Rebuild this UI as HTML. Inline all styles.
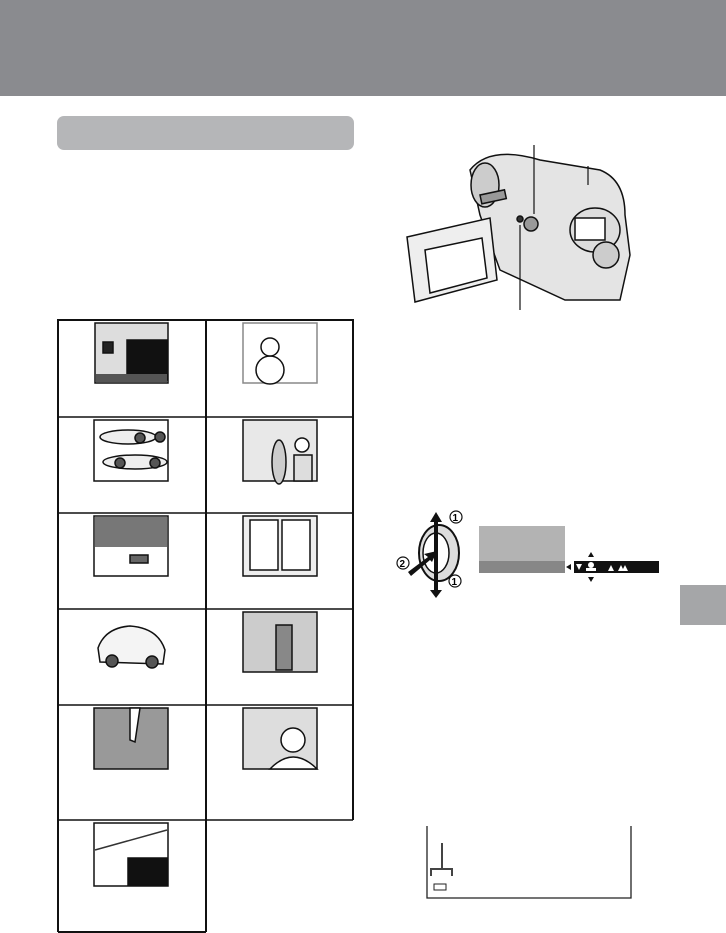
<!DOCTYPE html>
<html><head><meta charset="utf-8"><style>
html,body{margin:0;padding:0;background:#fff;}
body{width:726px;height:933px;position:relative;overflow:hidden;font-family:"Liberation Sans",sans-serif;}
</style></head><body>
<svg width="726" height="933" viewBox="0 0 726 933" xmlns="http://www.w3.org/2000/svg" style="position:absolute;left:0;top:0">
<rect x="0" y="0" width="726" height="96" fill="#8a8b8f"/>
<rect x="57" y="116" width="297" height="34" rx="7" fill="#b5b6b8"/>
<rect x="680" y="585" width="46" height="40" fill="#a5a6a8"/>

<!-- grid -->
<g fill="none" stroke="#111" stroke-width="2">
<polyline points="58,932 58,320 353,320 353,820"/>
<line x1="206" y1="320" x2="206" y2="932"/>
<line x1="58" y1="417" x2="353" y2="417" stroke-width="1.5"/>
<line x1="58" y1="513" x2="353" y2="513" stroke-width="1.5"/>
<line x1="58" y1="609" x2="353" y2="609" stroke-width="1.5"/>
<line x1="58" y1="705" x2="353" y2="705" stroke-width="1.5"/>
<line x1="58" y1="820" x2="353" y2="820" stroke-width="1.5"/>
<line x1="58" y1="932" x2="206" y2="932"/>
</g>
<!-- thumbnails -->
<g stroke="#111" stroke-width="1.5">
<!-- r1 left: room -->
<rect x="95" y="323" width="73" height="60" fill="#ddd"/>
<rect x="127" y="340" width="40" height="40" fill="#111"/>
<rect x="103" y="342" width="10" height="11" fill="#222"/>
<rect x="96" y="374" width="71" height="8" fill="#555" stroke="none"/>
<!-- r1 right: snowman -->
<rect x="243" y="323" width="74" height="60" fill="#fff" stroke="#888"/>
<circle cx="270" cy="370" r="14" fill="#fff"/>
<circle cx="270" cy="347" r="9" fill="#fff"/>
<!-- r2 left: cars -->
<rect x="94" y="420" width="74" height="61" fill="#fff"/>
<ellipse cx="128" cy="437" rx="28" ry="7" fill="#eee"/>
<ellipse cx="135" cy="462" rx="32" ry="7" fill="#eee"/>
<circle cx="140" cy="438" r="5" fill="#555"/><circle cx="160" cy="437" r="5" fill="#555"/>
<circle cx="120" cy="463" r="5" fill="#555"/><circle cx="155" cy="463" r="5" fill="#555"/>
<!-- r2 right: beach -->
<rect x="243" y="420" width="74" height="61" fill="#e8e8e8"/>
<ellipse cx="279" cy="462" rx="7" ry="22" fill="#ccc"/>
<rect x="294" y="455" width="18" height="26" fill="#ddd"/>
<circle cx="302" cy="445" r="7" fill="#fff"/>
<!-- r3 left: blinds -->
<rect x="94" y="516" width="74" height="60" fill="#fff"/>
<rect x="95" y="517" width="72" height="30" fill="#777" stroke="none"/>
<rect x="130" y="555" width="18" height="8" fill="#666"/>
<!-- r3 right: window -->
<rect x="243" y="516" width="74" height="60" fill="#eee"/>
<rect x="250" y="520" width="28" height="50" fill="#fff"/>
<rect x="282" y="520" width="28" height="50" fill="#fff"/>
<!-- r4 left: car -->
<rect x="94" y="612" width="74" height="60" fill="#fff" stroke="none"/>
<path d="M98 648 Q105 628 130 626 Q158 628 165 650 L163 664 L100 662 Z" fill="#f4f4f4"/>
<circle cx="112" cy="661" r="6" fill="#555"/><circle cx="152" cy="662" r="6" fill="#555"/>
<!-- r4 right: fence -->
<rect x="243" y="612" width="74" height="60" fill="#ccc"/>
<rect x="276" y="625" width="16" height="45" fill="#888"/>
<!-- r5 left: floor -->
<rect x="94" y="708" width="74" height="61" fill="#999"/>
<path d="M130 708 L130 740 L135 742 L140 708 Z" fill="#fff"/>
<!-- r5 right: portrait -->
<rect x="243" y="708" width="74" height="61" fill="#ddd"/>
<circle cx="293" cy="740" r="12" fill="#fff"/>
<path d="M270 769 Q293 745 317 769 Z" fill="#fff"/>
<!-- r6 left: night -->
<rect x="94" y="823" width="74" height="63" fill="#fff"/>
<path d="M95 850 L167 830" stroke="#333"/>
<rect x="128" y="858" width="39" height="27" fill="#111"/>
</g>

<!-- camera -->
<g stroke="#111" stroke-width="1.5">
<path d="M470 170 Q490 145 540 160 L600 170 Q625 180 625 215 L630 255 L620 300 L565 300 L500 270 L480 215 Z" fill="#e4e4e4"/>
<ellipse cx="485" cy="185" rx="14" ry="22" fill="#ccc"/>
<ellipse cx="595" cy="230" rx="25" ry="22" fill="#ddd"/>
<rect x="575" y="218" width="30" height="22" fill="#fff"/>
<circle cx="606" cy="255" r="13" fill="#ccc"/>
<circle cx="531" cy="224" r="7" fill="#999"/>
<circle cx="520" cy="219" r="3" fill="#333"/>
<path d="M407 237 L490 218 L497 280 L415 302 Z" fill="#eee"/>
<path d="M425 250 L482 238 L487 278 L430 293 Z" fill="#fff"/>
<rect x="480" y="195" width="25" height="9" fill="#999" transform="rotate(-12 480 195)"/>
</g>
<g stroke="#111" stroke-width="1.2">
<line x1="534" y1="145" x2="534" y2="214"/>
<line x1="588" y1="166" x2="588" y2="185"/>
<line x1="520" y1="225" x2="520" y2="310"/>
</g>

<!-- dial diagram -->
<g>
<ellipse cx="439" cy="553" rx="20" ry="28" fill="#ddd" stroke="#111" stroke-width="2"/>
<ellipse cx="436" cy="553" rx="13" ry="20" fill="#fff" stroke="#111" stroke-width="1.5"/>
<path d="M436 512 L430 522 L434 522 L434 590 L430 590 L436 598 L442 590 L438 590 L438 522 L442 522 Z" fill="#111"/>
<path d="M408 572 L428 557 L424 554 L437 551 L432 562 L430 560 L411 576 Z" fill="#111"/>
<circle cx="456" cy="517" r="6" fill="#fff" stroke="#111" stroke-width="1.2"/>
<text x="452.5" y="521" font-size="10" font-weight="bold">1</text>
<circle cx="403" cy="563" r="6" fill="#fff" stroke="#111" stroke-width="1.2"/>
<text x="399.5" y="567" font-size="10" font-weight="bold">2</text>
<circle cx="455" cy="581" r="6" fill="#fff" stroke="#111" stroke-width="1.2"/>
<text x="451.5" y="585" font-size="10" font-weight="bold">1</text>
</g>
<rect x="479" y="526" width="86" height="35" fill="#b3b3b3"/>
<rect x="479" y="561" width="86" height="12" fill="#878787"/>
<rect x="574" y="561" width="85" height="12" fill="#111"/>
<path d="M566 567 L571 564 L571 570 Z" fill="#111"/>
<path d="M591 552 L594 557 L588 557 Z M591 582 L594 577 L588 577 Z" fill="#111"/>
<path d="M576 564 L582 564 L579 570 Z" fill="#fff"/>
<circle cx="591" cy="565" r="3" fill="#fff"/><rect x="586" y="568" width="10" height="3" fill="#fff"/>
<path d="M608 571 L611 565 L614 571 Z M618 571 L621 565 L624 571 Z M622 571 L625 565 L628 571 Z" fill="#fff"/>

<!-- bottom box -->
<g fill="none" stroke="#222" stroke-width="1.3">
<polyline points="427,826 427,898 631,898 631,826"/>
<line x1="442" y1="843" x2="442" y2="868" stroke="#444" stroke-width="2"/>
<polyline points="431,876 431,869 452,869 452,876" stroke="#444" stroke-width="2"/>
<rect x="434" y="884" width="12" height="6" stroke-width="1"/>
</g>
</svg>
</body></html>
